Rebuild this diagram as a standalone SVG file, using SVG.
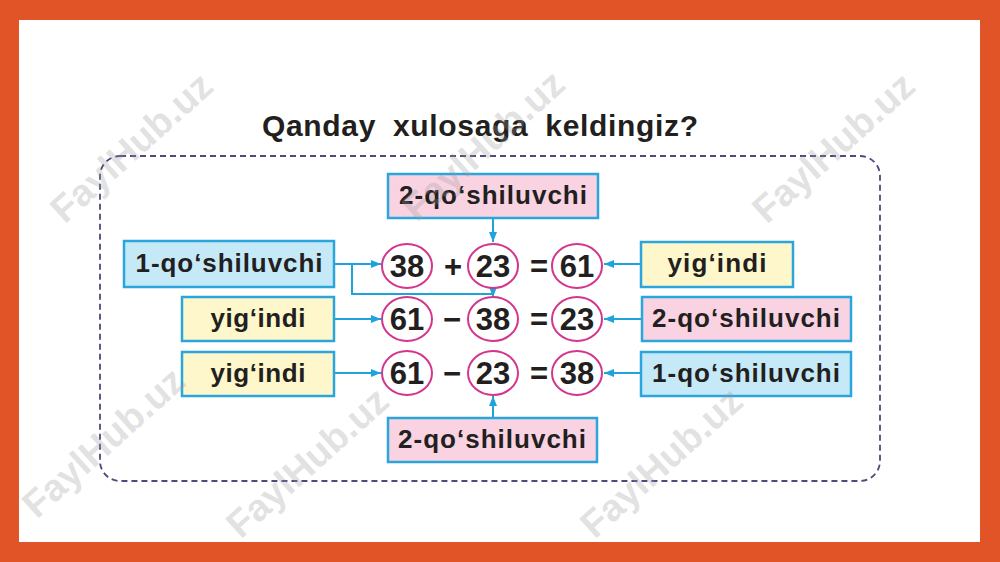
<svg xmlns="http://www.w3.org/2000/svg" width="1000" height="562" viewBox="0 0 1000 562">
<style>
.bx{stroke:#2aa6dc;stroke-width:2.5}
.pink{fill:#f9d3e1}.blue{fill:#c6e9f8}.yel{fill:#fdf7cb}
.lbl{font-family:"Liberation Sans",Arial,sans-serif;font-weight:bold;font-size:26px;fill:#231f20;text-anchor:middle}
.num{font-family:"Liberation Sans",Arial,sans-serif;font-weight:bold;font-size:31px;fill:#231f20;text-anchor:middle}
.cir{fill:#fff;stroke:#d3368c;stroke-width:2}
.con{fill:none;stroke:#1fa3dd;stroke-width:2}
.wm{font-family:"Liberation Sans",Arial,sans-serif;font-weight:bold;font-size:38px;fill:#9a9a9a;fill-opacity:0.3;text-anchor:middle}
</style>
<defs>
<marker id="ah" markerUnits="userSpaceOnUse" markerWidth="10" markerHeight="10" viewBox="0 0 10 10" refX="10" refY="5" orient="auto">
<path d="M0,1 L10,5 L0,9 Z" fill="#1fa3dd"/>
</marker>
</defs>
<rect x="0" y="0" width="1000" height="562" fill="#e05427"/>
<rect x="19" y="20" width="961" height="522" fill="#fff"/>
<rect x="100" y="156" width="780" height="325" rx="20" fill="none" stroke="#4b4b7d" stroke-width="1.8" stroke-dasharray="6 4"/>
<text x="480" y="136" font-family="Liberation Sans,Arial,sans-serif" font-weight="bold" font-size="30" fill="#231f20" text-anchor="middle" textLength="436" lengthAdjust="spacing" word-spacing="8">Qanday xulosaga keldingiz?</text>

<g id="connectors">
<path class="con" d="M493,218 V242" marker-end="url(#ah)"/>
<path class="con" d="M334,264 H381" marker-end="url(#ah)"/>
<path class="con" d="M352,264 V294 H493 V297" marker-end="url(#ah)"/>
<path class="con" d="M334,319 H381" marker-end="url(#ah)"/>
<path class="con" d="M334,373 H381" marker-end="url(#ah)"/>
<path class="con" d="M641,264 H604" marker-end="url(#ah)"/>
<path class="con" d="M642,319 H604" marker-end="url(#ah)"/>
<path class="con" d="M641,373 H604" marker-end="url(#ah)"/>
<path class="con" d="M493,418 V396" marker-end="url(#ah)"/>
</g>

<g id="top-addend2"><rect class="bx pink" x="388" y="174" width="210" height="44"/><text class="lbl" x="493" y="204" textLength="188" lengthAdjust="spacing">2-qo‘shiluvchi</text></g>
<g id="left-addend1"><rect class="bx blue" x="124" y="241" width="210" height="46"/><text class="lbl" x="229" y="272" textLength="187" lengthAdjust="spacing">1-qo‘shiluvchi</text></g>
<g id="left-sum1"><rect class="bx yel" x="182" y="297" width="152" height="44"/><text class="lbl" x="258" y="327" textLength="95" lengthAdjust="spacing">yig‘indi</text></g>
<g id="left-sum2"><rect class="bx yel" x="182" y="352" width="152" height="44"/><text class="lbl" x="258" y="382" textLength="95" lengthAdjust="spacing">yig‘indi</text></g>
<g id="right-sum"><rect class="bx yel" x="641" y="242" width="152" height="45"/><text class="lbl" x="717" y="272" textLength="99" lengthAdjust="spacing">yig‘indi</text></g>
<g id="right-addend2"><rect class="bx pink" x="642" y="297" width="209" height="44"/><text class="lbl" x="746" y="327" textLength="188" lengthAdjust="spacing">2-qo‘shiluvchi</text></g>
<g id="right-addend1"><rect class="bx blue" x="641" y="352" width="210" height="44"/><text class="lbl" x="746" y="382" textLength="188" lengthAdjust="spacing">1-qo‘shiluvchi</text></g>
<g id="bottom-addend2"><rect class="bx pink" x="388" y="418" width="209" height="44"/><text class="lbl" x="492" y="448" textLength="188" lengthAdjust="spacing">2-qo‘shiluvchi</text></g>

<g id="eq1">
<ellipse class="cir" cx="407" cy="266" rx="25" ry="22"/><text class="num" x="407" y="277">38</text>
<text class="num" x="453" y="277">+</text>
<ellipse class="cir" cx="493" cy="266" rx="25" ry="22"/><text class="num" x="493" y="277">23</text>
<text class="num" x="539" y="277">=</text>
<ellipse class="cir" cx="577" cy="266" rx="25" ry="22"/><text class="num" x="577" y="277">61</text>
</g>
<g id="eq2">
<ellipse class="cir" cx="407" cy="319" rx="25" ry="22"/><text class="num" x="407" y="330">61</text>
<text class="num" x="452" y="330">−</text>
<ellipse class="cir" cx="493" cy="319" rx="25" ry="22"/><text class="num" x="493" y="330">38</text>
<text class="num" x="539" y="330">=</text>
<ellipse class="cir" cx="577" cy="319" rx="25" ry="22"/><text class="num" x="577" y="330">23</text>
</g>
<g id="eq3">
<ellipse class="cir" cx="407" cy="373" rx="25" ry="22"/><text class="num" x="407" y="384">61</text>
<text class="num" x="452" y="384">−</text>
<ellipse class="cir" cx="493" cy="373" rx="25" ry="22"/><text class="num" x="493" y="384">23</text>
<text class="num" x="539" y="384">=</text>
<ellipse class="cir" cx="577" cy="373" rx="25" ry="22"/><text class="num" x="577" y="384">38</text>
</g>

<g id="watermarks">
<text class="wm" transform="translate(140,157) rotate(-42)">FaylHub.uz</text>
<text class="wm" transform="translate(492,155) rotate(-42)">FaylHub.uz</text>
<text class="wm" transform="translate(842,157) rotate(-42)">FaylHub.uz</text>
<text class="wm" transform="translate(112,452) rotate(-42)">FaylHub.uz</text>
<text class="wm" transform="translate(316,472) rotate(-42)">FaylHub.uz</text>
<text class="wm" transform="translate(670,472) rotate(-42)">FaylHub.uz</text>
</g>
</svg>
